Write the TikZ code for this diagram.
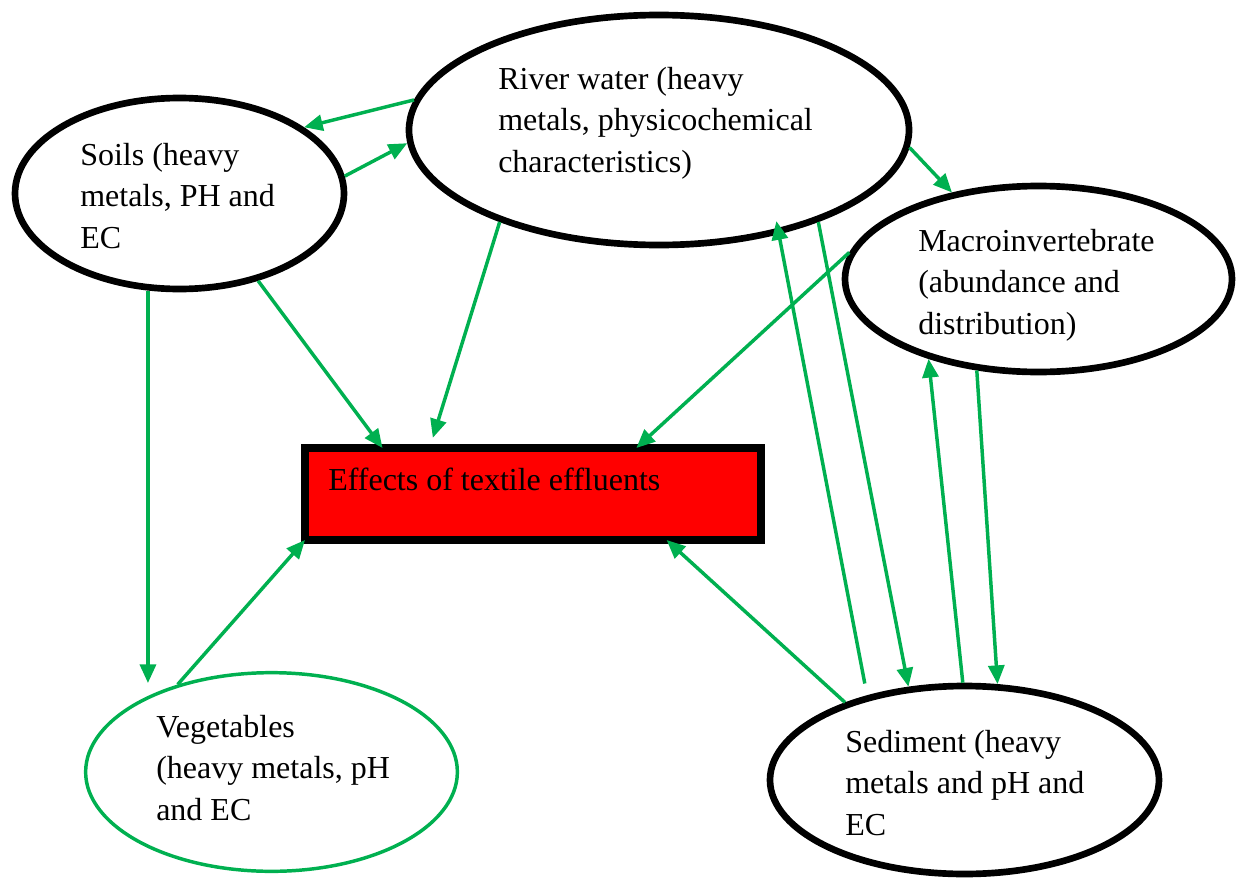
\documentclass[tikz,border=0pt]{standalone}
\usepackage{fontspec}
\setmainfont{Liberation Serif}
\usetikzlibrary{arrows.meta,shapes.geometric}
\definecolor{arrowgreen}{RGB}{0,176,80}
\definecolor{boxred}{RGB}{255,0,0}
\begin{document}
\begin{tikzpicture}[x=0.75pt,y=-0.75pt,
  blackell/.style={ellipse,draw=black,line width=5pt,inner sep=0pt,fill=white},
  greenell/.style={ellipse,draw=arrowgreen,line width=2.6pt,inner sep=0pt,fill=white},
  effbox/.style={rectangle,draw=black,fill=boxred,line width=6pt,inner sep=0pt,outer sep=0pt},
  labeltext/.style={anchor=north west,inner sep=0pt,align=left,font=\fontsize{24}{31.2}\selectfont},
  link/.style={draw=arrowgreen,line width=2.6pt,-{Triangle[length=14pt,width=12pt]}},
]
\useasboundingbox (0,0) rectangle (1236,878);

% shapes
\node[blackell,minimum width=246.75pt,minimum height=143.25pt] (soils) at (179.5,193.5) {};
\node[blackell,minimum width=375pt,minimum height=172.5pt] (river) at (659,130) {};
\node[blackell,minimum width=290.25pt,minimum height=139.5pt] (macro) at (1038.5,279) {};
\node[greenell,minimum width=278.8pt,minimum height=149pt] (veg) at (271.5,772) {};
\node[blackell,minimum width=291.75pt,minimum height=141pt] (sed) at (964.5,780) {};
\node[effbox,minimum width=342pt,minimum height=69pt] (eff) at (533,494) {};

% texts
\node[labeltext] (soilsT) at (80,135.9) {\strut Soils (heavy\\metals, PH and\\EC};
\node[labeltext] (riverT) at (498,59.9) {\strut River water (heavy\\metals, physicochemical\\characteristics)};
\node[labeltext] (macroT) at (918,221.9) {\strut Macroinvertebrate\\(abundance and\\distribution)};
\node[labeltext] (vegT) at (156,707.9) {\strut Vegetables\\(heavy metals, pH\\and EC};
\node[labeltext] (sedT) at (845,722.9) {\strut Sediment (heavy\\metals and pH and\\EC};
\node[labeltext] (effT) at (328,460.9) {\strut Effects of textile effluents};

% connectors
\draw[link] (river.173) -- (soils.28);
\draw[link] (soils.6) -- (river.183);
\draw[link] (river.-4) -- (macro.135);
\draw[link] (soils.-48) -- (eff.163);
\draw[link,shorten >=8pt] (river.-150) -- (eff.156);
\draw[link] (macro.172) -- (eff.24);
\draw[link] (soils.-108) -- (soils.-108 |- veg.135);
\draw[link] (veg.137) -- (eff.south west);
\draw[link] (sed.147) -- (eff.-19);
\draw[link,shorten <=9pt,shorten >=-10pt] (sed.139) -- (river.-41);
\draw[link] (river.-30) -- (sed.121);
\draw[link] (sed.91) -- (macro.-144);
\draw[link] (macro.-124) -- (sed.71);
\end{tikzpicture}
\end{document}
